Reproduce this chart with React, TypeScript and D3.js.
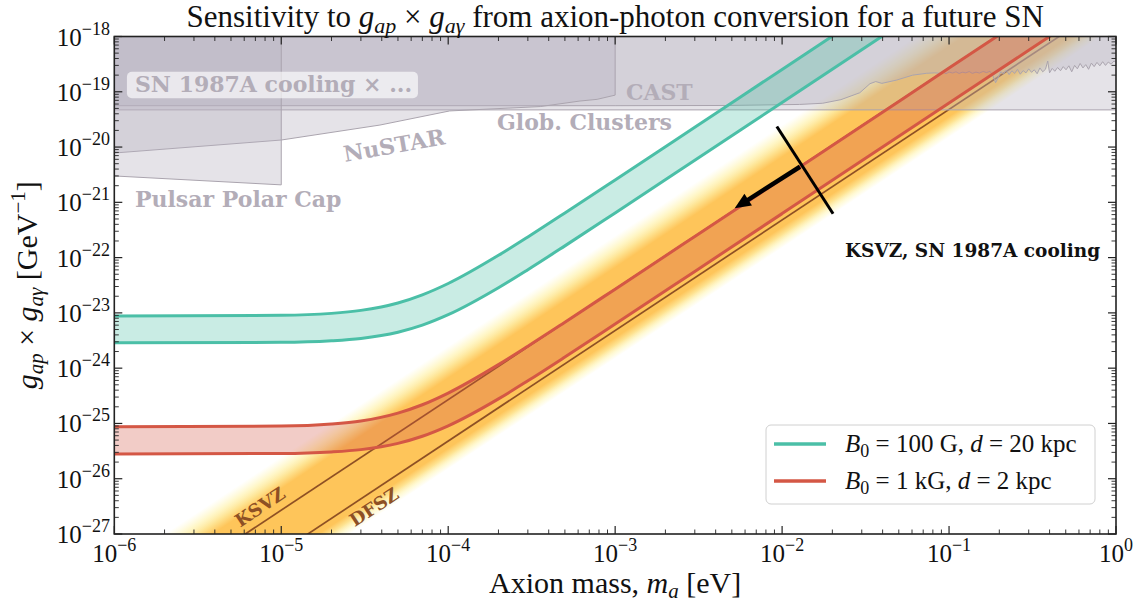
import React from 'react';
import * as d3 from 'd3';

const W = 1145;
const H = 603;
const M = { top: 36.5, right: 29, bottom: 69, left: 114.3 };

const serif = "'Liberation Serif', 'Times New Roman', serif";
const boldSerif = "'DejaVu Serif', serif";

// mass grid [eV] for the two sensitivity bands, values in GeV^-1
const massGrid = [1e-6, 1e-5, 2e-5, 3e-5, 5e-5, 7e-5, 1e-4, 2e-4, 3e-4, 5e-4, 1e-3, 3e-3, 1e-2, 3e-2, 1e-1, 3e-1, 1];
const tealUpper = [8.8e-24, 9.05e-24, 9.8e-24, 1.11e-23, 1.51e-23, 2.12e-23, 3.4e-23, 1.1e-22, 2.37e-22, 6.43e-22, 2.54e-21, 2.28e-20, 2.54e-19, 2.28e-18, 2.5e-17, 2.3e-16, 2.5e-15];
const tealLower = [2.87e-24, 2.93e-24, 3.13e-24, 3.45e-24, 4.47e-24, 6.0e-24, 9.27e-24, 2.85e-23, 6.05e-23, 1.63e-22, 6.43e-22, 5.76e-21, 6.4e-20, 5.76e-19, 6.4e-18, 5.8e-17, 6.4e-16];
const redUpper = [8.7e-26, 8.97e-26, 9.77e-26, 1.11e-25, 1.54e-25, 2.18e-25, 3.55e-25, 1.16e-24, 2.5e-24, 6.79e-24, 2.69e-23, 2.41e-22, 2.68e-21, 2.41e-20, 2.68e-19, 2.41e-18, 2.68e-17];
const redLower = [2.8e-26, 2.86e-26, 3.05e-26, 3.36e-26, 4.36e-26, 5.86e-26, 9.05e-26, 2.78e-25, 5.91e-25, 1.59e-24, 6.28e-24, 5.63e-23, 6.25e-22, 5.63e-21, 6.25e-20, 5.63e-19, 6.25e-18];

// QCD axion lines and the edges of the shaded band
const ksvzLine = [[1e-6, 2.7e-29], [1, 2.7e-17]];
const dfszLine = [[1e-6, 4.8e-30], [1, 4.8e-18]];
const qcdUpperEdge = [[1e-6, 2.5e-28], [1, 2.5e-16]];
const qcdLowerEdge = [[1e-6, 1.5e-30], [1, 1.5e-18]];

// SN 1987A cooling x (photon bounds)
const globClusters = 4.7e-20;
const castBound = [
  [1e-6, 5.6e-20], [1e-3, 5.6e-20], [4.7e-3, 5.65e-20], [0.0127, 5.9e-20], [0.0175, 6.2e-20],
  [0.0225, 7.2e-20], [0.0292, 9.6e-20], [0.0336, 1.4e-19], [0.0364, 1.53e-19], [0.0396, 1.42e-19],
  [0.0486, 1.63e-19], [0.0606, 2.0e-19], [0.0734, 2.16e-19], [0.082, 2.2e-19],
  [0.088, 2.16e-19], [0.092, 2.25e-19], [0.096, 2.12e-19], [0.1, 2.28e-19], [0.105, 2.18e-19],
  [0.11, 2.3e-19], [0.115, 2.14e-19], [0.12, 2.26e-19], [0.126, 2.2e-19], [0.132, 2.32e-19],
  [0.138, 2.15e-19], [0.145, 2.27e-19], [0.152, 2.18e-19], [0.16, 2.33e-19], [0.168, 2.22e-19],
  [0.176, 2.35e-19], [0.183, 1.95e-19], [0.19, 1.46e-19], [0.197, 1.8e-19], [0.204, 2.3e-19],
  [0.212, 2.1e-19], [0.22, 2.45e-19], [0.229, 2.05e-19], [0.238, 2.4e-19], [0.247, 2.15e-19],
  [0.257, 2.55e-19], [0.267, 2.08e-19], [0.278, 2.42e-19], [0.289, 2.2e-19], [0.3, 2.6e-19],
  [0.312, 2.25e-19], [0.324, 2.5e-19], [0.337, 2.12e-19], [0.35, 2.7e-19], [0.364, 2.3e-19],
  [0.378, 2.55e-19], [0.39, 3.6e-19], [0.4, 2.2e-19], [0.415, 2.65e-19], [0.43, 2.35e-19],
  [0.447, 2.75e-19], [0.465, 2.4e-19], [0.483, 2.85e-19], [0.502, 2.5e-19], [0.522, 2.95e-19],
  [0.543, 2.3e-19], [0.565, 3.0e-19], [0.587, 2.6e-19], [0.61, 3.25e-19], [0.634, 2.7e-19],
  [0.659, 3.1e-19], [0.685, 2.55e-19], [0.712, 3.3e-19], [0.74, 2.85e-19], [0.769, 3.4e-19],
  [0.8, 2.95e-19], [0.832, 3.5e-19], [0.865, 3.0e-19], [0.899, 3.45e-19], [0.935, 3.15e-19],
  [0.972, 3.6e-19], [1.0, 3.4e-19],
];
const nustarBound = [[1e-6, 7.8e-21], [1e-5, 1.34e-20], [3.9e-5, 2.5e-20], [1.02e-4, 4.5e-20], [3.56e-4, 5.4e-20], [6.15e-4, 6.8e-20], [7.8e-4, 7.3e-20], [1e-3, 8.7e-20]];
const pulsarBound = [[1e-6, 3.0e-21], [1e-5, 2.07e-21]];

// KSVZ + SN 1987A cooling marker
const coolingBar = [[9.3e-3, 2.35e-20], [2.02e-2, 6.2e-22]];
const coolingArrow = [[1.28e-2, 4.4e-21], [5.2e-3, 7.8e-22]];

const xTickExps = [-6, -5, -4, -3, -2, -1, 0];
const yTickExps = [-27, -26, -25, -24, -23, -22, -21, -20, -19, -18];

const teal = '#4bbfa7';
const red = '#d45745';
const brown = '#8e5024';
const greyFill = 'rgb(184,177,190)';
const greyEdge = '#aaa4ae';
const greyText = '#b3adb8';

export default function App() {
  const x = d3.scaleLog().domain([1e-6, 1]).range([M.left, W - M.right]);
  const y = d3.scaleLog().domain([1e-27, 1e-18]).range([H - M.bottom, M.top]);
  const pt = (d: number[]) => [x(d[0]), y(d[1])];

  const line = d3.line<number[]>().x(d => x(d[0])).y(d => y(d[1]));
  const curve = d3.line<number>().x((_, i) => x(massGrid[i])).y(d => y(d)).curve(d3.curveMonotoneX);
  const band = (lo: number[], hi: number[]) =>
    d3.area<number>()
      .x(d => x(d))
      .y0((_, i) => y(lo[i]))
      .y1((_, i) => y(hi[i]))
      .curve(d3.curveMonotoneX)(massGrid);

  // gradient across the QCD band, perpendicular to it
  const [ax, ay] = pt(qcdUpperEdge[0]);
  const [bx, by] = pt(qcdUpperEdge[1]);
  const s = (ay - by) / (bx - ax);
  const yb = H - M.bottom;
  const xAt = (edge: number[][], yy: number) => {
    const [px, py] = pt(edge[0]);
    return px + (py - yy) / s;
  };
  const xU = xAt(qcdUpperEdge, yb);
  const xL = xAt(qcdLowerEdge, yb);
  const nrm = Math.sqrt(1 + s * s);
  const dist = ((xL - xU) * s) / nrm;
  const gx2 = xU + (s / nrm) * dist;
  const gy2 = yb + (1 / nrm) * dist;
  const angle = (-Math.atan(s) * 180) / Math.PI;

  const qcdPoly = [qcdUpperEdge[0], qcdUpperEdge[1], qcdLowerEdge[1], qcdLowerEdge[0]];

  const top = 1e-17;
  const gcPoly = [[1e-7, globClusters], [10, globClusters], [10, top], [1e-7, top]];
  const castPoly = [[1e-7, castBound[0][1]], ...castBound, [10, castBound[castBound.length - 1][1]], [10, top], [1e-7, top]];
  const nustarPoly = [[1e-7, nustarBound[0][1]], ...nustarBound, [1e-3, top], [1e-7, top]];
  const pulsarPoly = [[1e-7, pulsarBound[0][1]], ...pulsarBound, [1e-5, top], [1e-7, top]];

  // arrow
  const [a0x, a0y] = pt(coolingArrow[0]);
  const [a1x, a1y] = pt(coolingArrow[1]);
  const alen = Math.hypot(a1x - a0x, a1y - a0y);
  const ux = (a1x - a0x) / alen;
  const uy = (a1y - a0y) / alen;
  const headL = 16;
  const headW = 7;
  const baseX = a1x - ux * headL;
  const baseY = a1y - uy * headL;
  const head = [
    [a1x, a1y],
    [baseX - uy * headW, baseY + ux * headW],
    [baseX + uy * headW, baseY - ux * headW],
  ];

  const xMinor: number[] = [];
  for (let e = -6; e < 0; e++) for (let k = 2; k <= 9; k++) xMinor.push(k * Math.pow(10, e));
  const yMinor: number[] = [];
  for (let e = -27; e < -18; e++) for (let k = 2; k <= 9; k++) yMinor.push(k * Math.pow(10, e));

  const x0 = M.left;
  const x1 = W - M.right;
  const y0 = M.top;
  const y1 = H - M.bottom;

  const lbl = (m: number, g: number) => ({ x: x(m), y: y(g) });
  const sn = { l: x(1.19e-6), r: x(6.59e-5), t: y(2.31e-19), b: y(7.63e-20) };
  const ksvzLbl = lbl(7.45e-6, 3.1e-27);
  const dfszLbl = lbl(3.59e-5, 3.1e-27);
  const nuLbl = lbl(2.41e-5, 5.38e-21);

  return (
    <svg width={W} height={H} style={{ position: 'absolute', left: 0, top: 0, background: '#fff' }} fontFamily={serif}>
      <defs>
        <clipPath id="plotArea">
          <rect x={x0} y={y0} width={x1 - x0} height={y1 - y0} />
        </clipPath>
        <linearGradient id="qcdBand" gradientUnits="userSpaceOnUse" x1={xU} y1={yb} x2={gx2} y2={gy2}>
          <stop offset="0" stopColor="#fff7bc" stopOpacity="0" />
          <stop offset="0.1" stopColor="#fff3b0" stopOpacity="0.7" />
          <stop offset="0.18" stopColor="#fee391" stopOpacity="1" />
          <stop offset="0.26" stopColor="#fec55a" stopOpacity="1" />
          <stop offset="0.83" stopColor="#fec55a" stopOpacity="1" />
          <stop offset="0.89" stopColor="#fee391" stopOpacity="1" />
          <stop offset="0.95" stopColor="#fff7bc" stopOpacity="0.6" />
          <stop offset="1" stopColor="#fff7bc" stopOpacity="0" />
        </linearGradient>
      </defs>

      <g clipPath="url(#plotArea)">
        {/* QCD axion band */}
        <path d={line(qcdPoly) + 'Z'} fill="url(#qcdBand)" />
        <path d={line(ksvzLine) || ''} fill="none" stroke={brown} strokeWidth={1.7} />
        <path d={line(dfszLine) || ''} fill="none" stroke={brown} strokeWidth={1.7} />

        {/* existing bounds */}
        {[gcPoly, castPoly, nustarPoly, pulsarPoly].map((p, i) => (
          <path key={i} d={line(p) + 'Z'} fill={greyFill} fillOpacity={0.36} stroke={greyEdge} strokeWidth={1} strokeLinejoin="round" />
        ))}

        {/* sensitivity bands */}
        <path d={band(redLower, redUpper) || ''} fill={red} fillOpacity={0.3} />
        <path d={band(tealLower, tealUpper) || ''} fill={teal} fillOpacity={0.3} />
        <path d={curve(redUpper) || ''} fill="none" stroke={red} strokeWidth={3} />
        <path d={curve(redLower) || ''} fill="none" stroke={red} strokeWidth={3} />
        <path d={curve(tealUpper) || ''} fill="none" stroke={teal} strokeWidth={3} />
        <path d={curve(tealLower) || ''} fill="none" stroke={teal} strokeWidth={3} />

        {/* cooling marker */}
        <path d={line(coolingBar) || ''} stroke="#000" strokeWidth={3} fill="none" />
        <line x1={a0x} y1={a0y} x2={baseX + ux * 2} y2={baseY + uy * 2} stroke="#000" strokeWidth={4.5} />
        <polygon points={head.map(p => p.join(',')).join(' ')} fill="#000" />
      </g>

      {/* region labels */}
      <rect x={sn.l} y={sn.t} width={sn.r - sn.l} height={sn.b - sn.t} rx={5} fill="#fff" fillOpacity={0.65} />
      <g fontFamily={boldSerif} fontWeight="bold" fontSize={22} fill={greyText}>
        <text x={x(1.33e-6)} y={y(1.0e-19)}>SN 1987A cooling × ...</text>
        <text x={x(1.33e-6)} y={y(8.26e-22)}>Pulsar Polar Cap</text>
        <text transform={`translate(${nuLbl.x},${nuLbl.y}) rotate(-10)`}>NuSTAR</text>
        <text x={x(1.96e-4)} y={y(2.04e-20)}>Glob. Clusters</text>
        <text x={x(1.16e-3)} y={y(7.11e-20)}>CAST</text>
      </g>
      <g fontFamily={boldSerif} fontWeight="bold" fontSize={18} fill={brown} textAnchor="middle">
        <text transform={`translate(${ksvzLbl.x},${ksvzLbl.y}) rotate(${angle})`} dominantBaseline="central">KSVZ</text>
        <text transform={`translate(${dfszLbl.x},${dfszLbl.y}) rotate(${angle})`} dominantBaseline="central">DFSZ</text>
      </g>
      <text x={x(0.0238)} y={y(1.04e-22)} fontFamily={boldSerif} fontWeight="bold" fontSize={18.5} fill="#111">
        KSVZ, SN 1987A cooling
      </text>

      {/* legend */}
      <g>
        <rect x={766} y={425} width={329} height={79} rx={5} fill="#fff" fillOpacity={0.85} stroke="#d0d0d0" strokeWidth={1} />
        <line x1={774} x2={826} y1={444} y2={444} stroke={teal} strokeWidth={3.5} />
        <line x1={774} x2={826} y1={481} y2={481} stroke={red} strokeWidth={3.5} />
        <text x={845} y={452} fontSize={25} fill="#111">
          <tspan fontStyle="italic">B</tspan>
          <tspan fontSize={18} dy={5}>0</tspan>
          <tspan dy={-5}>{' = 100 G, '}</tspan>
          <tspan fontStyle="italic">d</tspan>
          <tspan>{' = 20 kpc'}</tspan>
        </text>
        <text x={845} y={489} fontSize={25} fill="#111">
          <tspan fontStyle="italic">B</tspan>
          <tspan fontSize={18} dy={5}>0</tspan>
          <tspan dy={-5}>{' = 1 kG, '}</tspan>
          <tspan fontStyle="italic">d</tspan>
          <tspan>{' = 2 kpc'}</tspan>
        </text>
      </g>

      {/* axes frame and ticks */}
      <g stroke="#222">
        {xTickExps.map(e => {
          const xx = x(Math.pow(10, e));
          return (
            <g key={'xm' + e}>
              <line x1={xx} x2={xx} y1={y1} y2={y1 - 8} strokeWidth={1.2} />
              <line x1={xx} x2={xx} y1={y0} y2={y0 + 8} strokeWidth={1.2} />
            </g>
          );
        })}
        {xMinor.map((v, i) => (
          <g key={'xn' + i}>
            <line x1={x(v)} x2={x(v)} y1={y1} y2={y1 - 4.5} strokeWidth={0.9} />
            <line x1={x(v)} x2={x(v)} y1={y0} y2={y0 + 4.5} strokeWidth={0.9} />
          </g>
        ))}
        {yTickExps.map(e => {
          const yy = y(Math.pow(10, e));
          return (
            <g key={'ym' + e}>
              <line x1={x0} x2={x0 + 8} y1={yy} y2={yy} strokeWidth={1.2} />
              <line x1={x1} x2={x1 - 8} y1={yy} y2={yy} strokeWidth={1.2} />
            </g>
          );
        })}
        {yMinor.map((v, i) => (
          <g key={'yn' + i}>
            <line x1={x0} x2={x0 + 4.5} y1={y(v)} y2={y(v)} strokeWidth={0.9} />
            <line x1={x1} x2={x1 - 4.5} y1={y(v)} y2={y(v)} strokeWidth={0.9} />
          </g>
        ))}
        <rect x={x0} y={y0} width={x1 - x0} height={y1 - y0} fill="none" strokeWidth={1.6} />
      </g>

      {/* tick labels */}
      <g fontSize={25} fill="#111">
        {xTickExps.map(e => (
          <text key={'xl' + e} x={x(Math.pow(10, e))} y={562} textAnchor="middle">
            10<tspan fontSize={18} dy={-11}>{e === 0 ? '0' : '\u2212' + -e}</tspan>
          </text>
        ))}
        {yTickExps.map(e => (
          <text key={'yl' + e} x={110} y={y(Math.pow(10, e)) + 9} textAnchor="end">
            10<tspan fontSize={18} dy={-11}>{'\u2212' + -e}</tspan>
          </text>
        ))}
      </g>

      {/* axis labels and title */}
      <text x={(x0 + x1) / 2} y={593} textAnchor="middle" fontSize={30} fill="#111">
        {'Axion mass, '}
        <tspan fontStyle="italic">m</tspan>
        <tspan fontSize={21} dy={5} fontStyle="italic">a</tspan>
        <tspan dy={-5}>{' [eV]'}</tspan>
      </text>
      <text transform={`translate(37,${(y0 + y1) / 2}) rotate(-90)`} textAnchor="middle" fontSize={30} fill="#111">
        <tspan fontStyle="italic">g</tspan>
        <tspan fontSize={21} dy={6} fontStyle="italic">ap</tspan>
        <tspan dy={-6}>{' × '}</tspan>
        <tspan fontStyle="italic">g</tspan>
        <tspan fontSize={21} dy={6} fontStyle="italic">aγ</tspan>
        <tspan dy={-6}>{' [GeV'}</tspan>
        <tspan fontSize={21} dy={-12}>{'\u22121'}</tspan>
        <tspan dy={12}>]</tspan>
      </text>
      <text x={(x0 + x1) / 2} y={27} textAnchor="middle" fontSize={31} fill="#111">
        {'Sensitivity to '}
        <tspan fontStyle="italic">g</tspan>
        <tspan fontSize={22} dy={6} fontStyle="italic">ap</tspan>
        <tspan dy={-6}>{' × '}</tspan>
        <tspan fontStyle="italic">g</tspan>
        <tspan fontSize={22} dy={6} fontStyle="italic">aγ</tspan>
        <tspan dy={-6}>{' from axion-photon conversion for a future SN'}</tspan>
      </text>
    </svg>
  );
}
